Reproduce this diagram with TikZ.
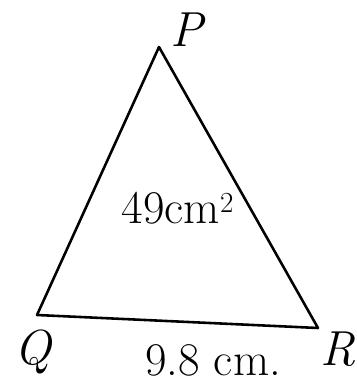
\documentclass[tikz,border=0pt]{standalone}
\usetikzlibrary{positioning}

\begin{document}
\begin{tikzpicture}[
    x=0.03cm, y=-0.03cm,
    side/.style={draw=black, line width=2.2pt, line join=round},
    vlabel/.style={font=\fontsize{42}{46}\selectfont\itshape, inner sep=0pt},
    measure/.style={font=\fontsize{40}{44}\selectfont, inner sep=0pt}
  ]
    \useasboundingbox (0,0) rectangle (357,383);

    % Vertices
    \coordinate (P) at (159, 47);
    \coordinate (Q) at (37, 315);
    \coordinate (R) at (318, 328);

    % Triangle
    \draw[side] (P) -- (R) -- (Q) -- cycle;

    % Vertex labels
    \node[vlabel] (labP) at (187, 30) {P};
    \node[vlabel] (labQ) at (33, 352) {Q};
    \node[vlabel] (labR) at (338, 349) {R};

    % Measurements
    \node[measure] (area) at (178, 208) {49cm$^2$};
    \node[measure] (base) at (213, 360) {9.8 cm.};
\end{tikzpicture}
\end{document}
